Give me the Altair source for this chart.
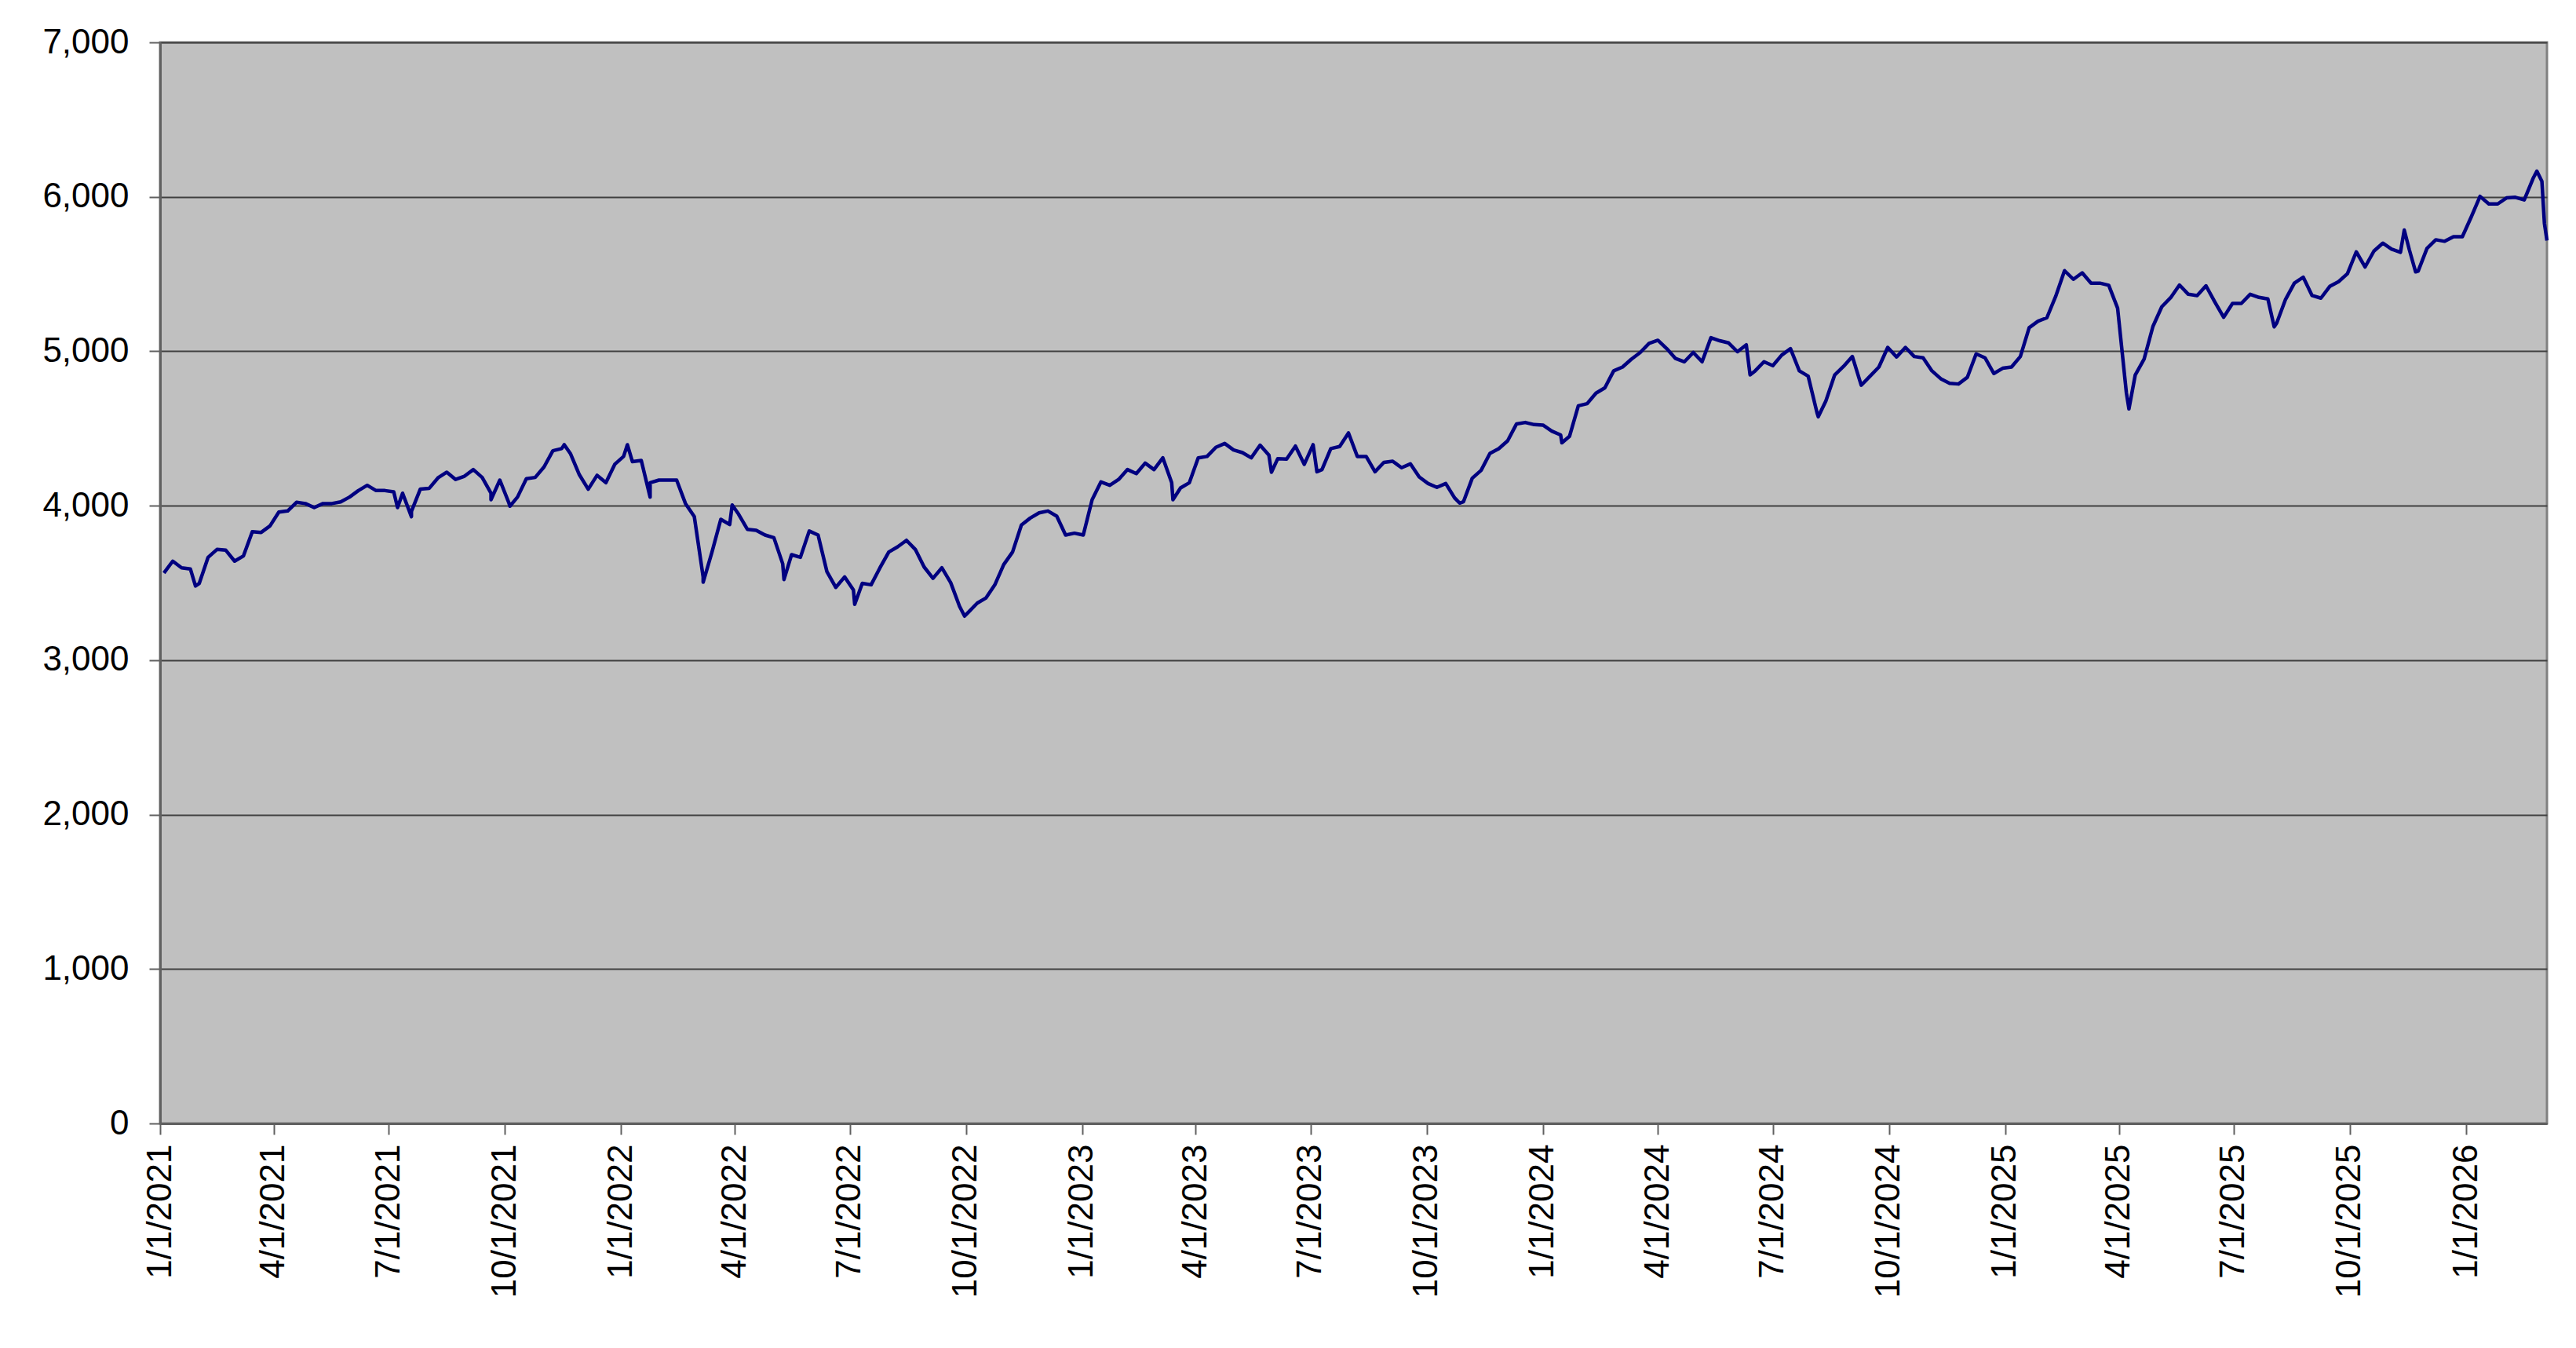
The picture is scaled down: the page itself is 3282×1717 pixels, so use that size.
import altair as alt
import pandas as pd

# weekly readings (Mondays) starting 2021-01-04, plus the last two days shown
week_start = "2021-01-04"
n_weeks = 270
extra_dates = ["2026-03-04", "2026-03-06"]

values = [
    3564, 3641, 3598, 3590, 3497, 3666, 3717, 3712, 3641, 3675,
    3832, 3827, 3869, 3959, 3966, 4022, 4014, 3988, 4014, 4014,
    4025, 4056, 4098, 4132, 4098, 4098, 4090, 4081, 3963, 4107,
    4112, 4180, 4217, 4170, 4191, 4234, 4183, 4081, 4166, 4022,
    4056, 4175, 4183, 4251, 4356, 4370, 4336, 4200, 4107, 4197,
    4149, 4268, 4319, 4285, 4293, 4149, 4166, 4166, 4166, 4014,
    3929, 3539, 3700, 3912, 3878, 3946, 3847, 3841, 3810, 3793,
    3624, 3683, 3666, 3836, 3810, 3573, 3471, 3539, 3454, 3497,
    3488, 3598, 3700, 3734, 3776, 3717, 3603, 3530, 3598, 3502,
    3349, 3310, 3369, 3403, 3488, 3619, 3700, 3875, 3920, 3954,
    3966, 3932, 3810, 3822, 3810, 4039, 4154, 4132, 4170, 4234,
    4208, 4276, 4234, 4310, 4149, 4115, 4149, 4310, 4319, 4378,
    4403, 4361, 4344, 4310, 4392, 4327, 4305, 4302, 4386, 4268,
    4395, 4234, 4370, 4383, 4471, 4319, 4319, 4220, 4280, 4288,
    4246, 4271, 4186, 4144, 4119, 4144, 4051, 4025, 4178, 4229,
    4339, 4369, 4420, 4529, 4539, 4525, 4522, 4483, 4458, 4449,
    4647, 4661, 4729, 4763, 4873, 4898, 4949, 4992, 5051, 5071,
    5017, 4953, 4932, 4992, 4932, 5088, 5068, 5054, 4997, 5042,
    4873, 4932, 4907, 4975, 5017, 4873, 4839, 4602, 4678, 4847,
    4902, 4966, 4780, 4839, 4898, 5025, 4963, 5025, 4966, 4958,
    4873, 4822, 4793, 4788, 4831, 4983, 4958, 4856, 4890, 4898,
    4966, 5153, 5195, 5217, 5356, 5522, 5466, 5508, 5441, 5441,
    5427, 5280, 4729, 4847, 4949, 5161, 5288, 5347, 5429, 5369,
    5361, 5424, 5319, 5220, 5310, 5310, 5369, 5349, 5339, 5183,
    5336, 5441, 5480, 5361, 5344, 5420, 5451, 5502, 5644, 5546,
    5649, 5700, 5661, 5641, 5658, 5519, 5666, 5722, 5712, 5742,
    5742, 5869, 6003, 5954, 5954, 5993, 5997, 5980, 6119, 6100,
    5827, 5717,
]

# short-lived highs and lows between the weekly readings
spike_dates = [
    "2021-01-29", "2021-07-08", "2021-07-19", "2021-09-20", "2021-10-05",
    "2021-11-17", "2022-01-06", "2022-01-24", "2022-03-07", "2022-03-30",
    "2022-05-10", "2022-07-05", "2022-09-30", "2023-03-14", "2023-05-31",
    "2023-07-06", "2023-10-27", "2024-01-16", "2024-06-13", "2024-08-06",
    "2025-04-09", "2025-08-02", "2025-11-13", "2025-11-22", "2026-02-26",
]
spike_values = [
    3480, 3988, 3929, 4039, 3997,
    4395, 4395, 4056, 3505, 4005,
    3522, 3361, 3285, 4039, 4217,
    4220, 4017, 4407, 4847, 4576,
    4627, 5158, 5785, 5514, 6166,
]

y_ticks = [0, 1000, 2000, 3000, 4000, 5000, 6000, 7000]

dates = list(pd.date_range(week_start, periods=n_weeks, freq="7D").strftime("%Y-%m-%d")) + extra_dates
df = pd.DataFrame({"date": dates + spike_dates, "value": values + spike_values})
df = df.sort_values("date").reset_index(drop=True)

FONT = "Liberation Sans"

chart = (
    alt.Chart(df)
    .mark_line(color="#000080", strokeWidth=4.5, strokeJoin="round")
    .encode(
        x=alt.X(
            "date:T",
            sort=None,
            scale=alt.Scale(
                type="utc",
                domain=[
                    alt.DateTime(year=2021, month=1, date=1, utc=True),
                    alt.DateTime(year=2026, month=3, date=6, utc=True),
                ],
                nice=False,
            ),
            axis=alt.Axis(
                title=None,
                format="%-m/%-d/%Y",
                tickCount=alt.TickCount(interval="month", step=3),
                labelAngle=-90,
                labelPadding=12,
                labelOverlap=False,
                labelFlush=False,
                labelBound=False,
                labelLimit=0,
                grid=False,
                tickSize=14,
                tickWidth=2,
                tickColor="#606060",
                domainColor="#606060",
                domainWidth=3,
            ),
        ),
        y=alt.Y(
            "value:Q",
            scale=alt.Scale(domain=[0, 7000], nice=False),
            axis=alt.Axis(
                title=None,
                values=y_ticks,
                format=",d",
                labelPadding=26,
                labelLimit=0,
                tickSize=14,
                tickWidth=2,
                tickColor="#606060",
                domainColor="#606060",
                domainWidth=3,
                grid=True,
                gridColor="#404040",
                gridWidth=2,
            ),
        ),
    )
    .properties(
        width=3041,
        height=1377,
        autosize=alt.AutoSizeParams(type="none"),
        padding={"left": 196, "top": 46, "right": 25, "bottom": 280},
        background="white",
    )
    .configure_axis(
        labelFont=FONT,
        labelFontSize=44,
        labelColor="#000000",
    )
    .configure_view(fill="#C0C0C0", stroke="#808080", strokeWidth=3)
)

chart.save("out.html", embed_options={"renderer": "svg", "actions": False})
